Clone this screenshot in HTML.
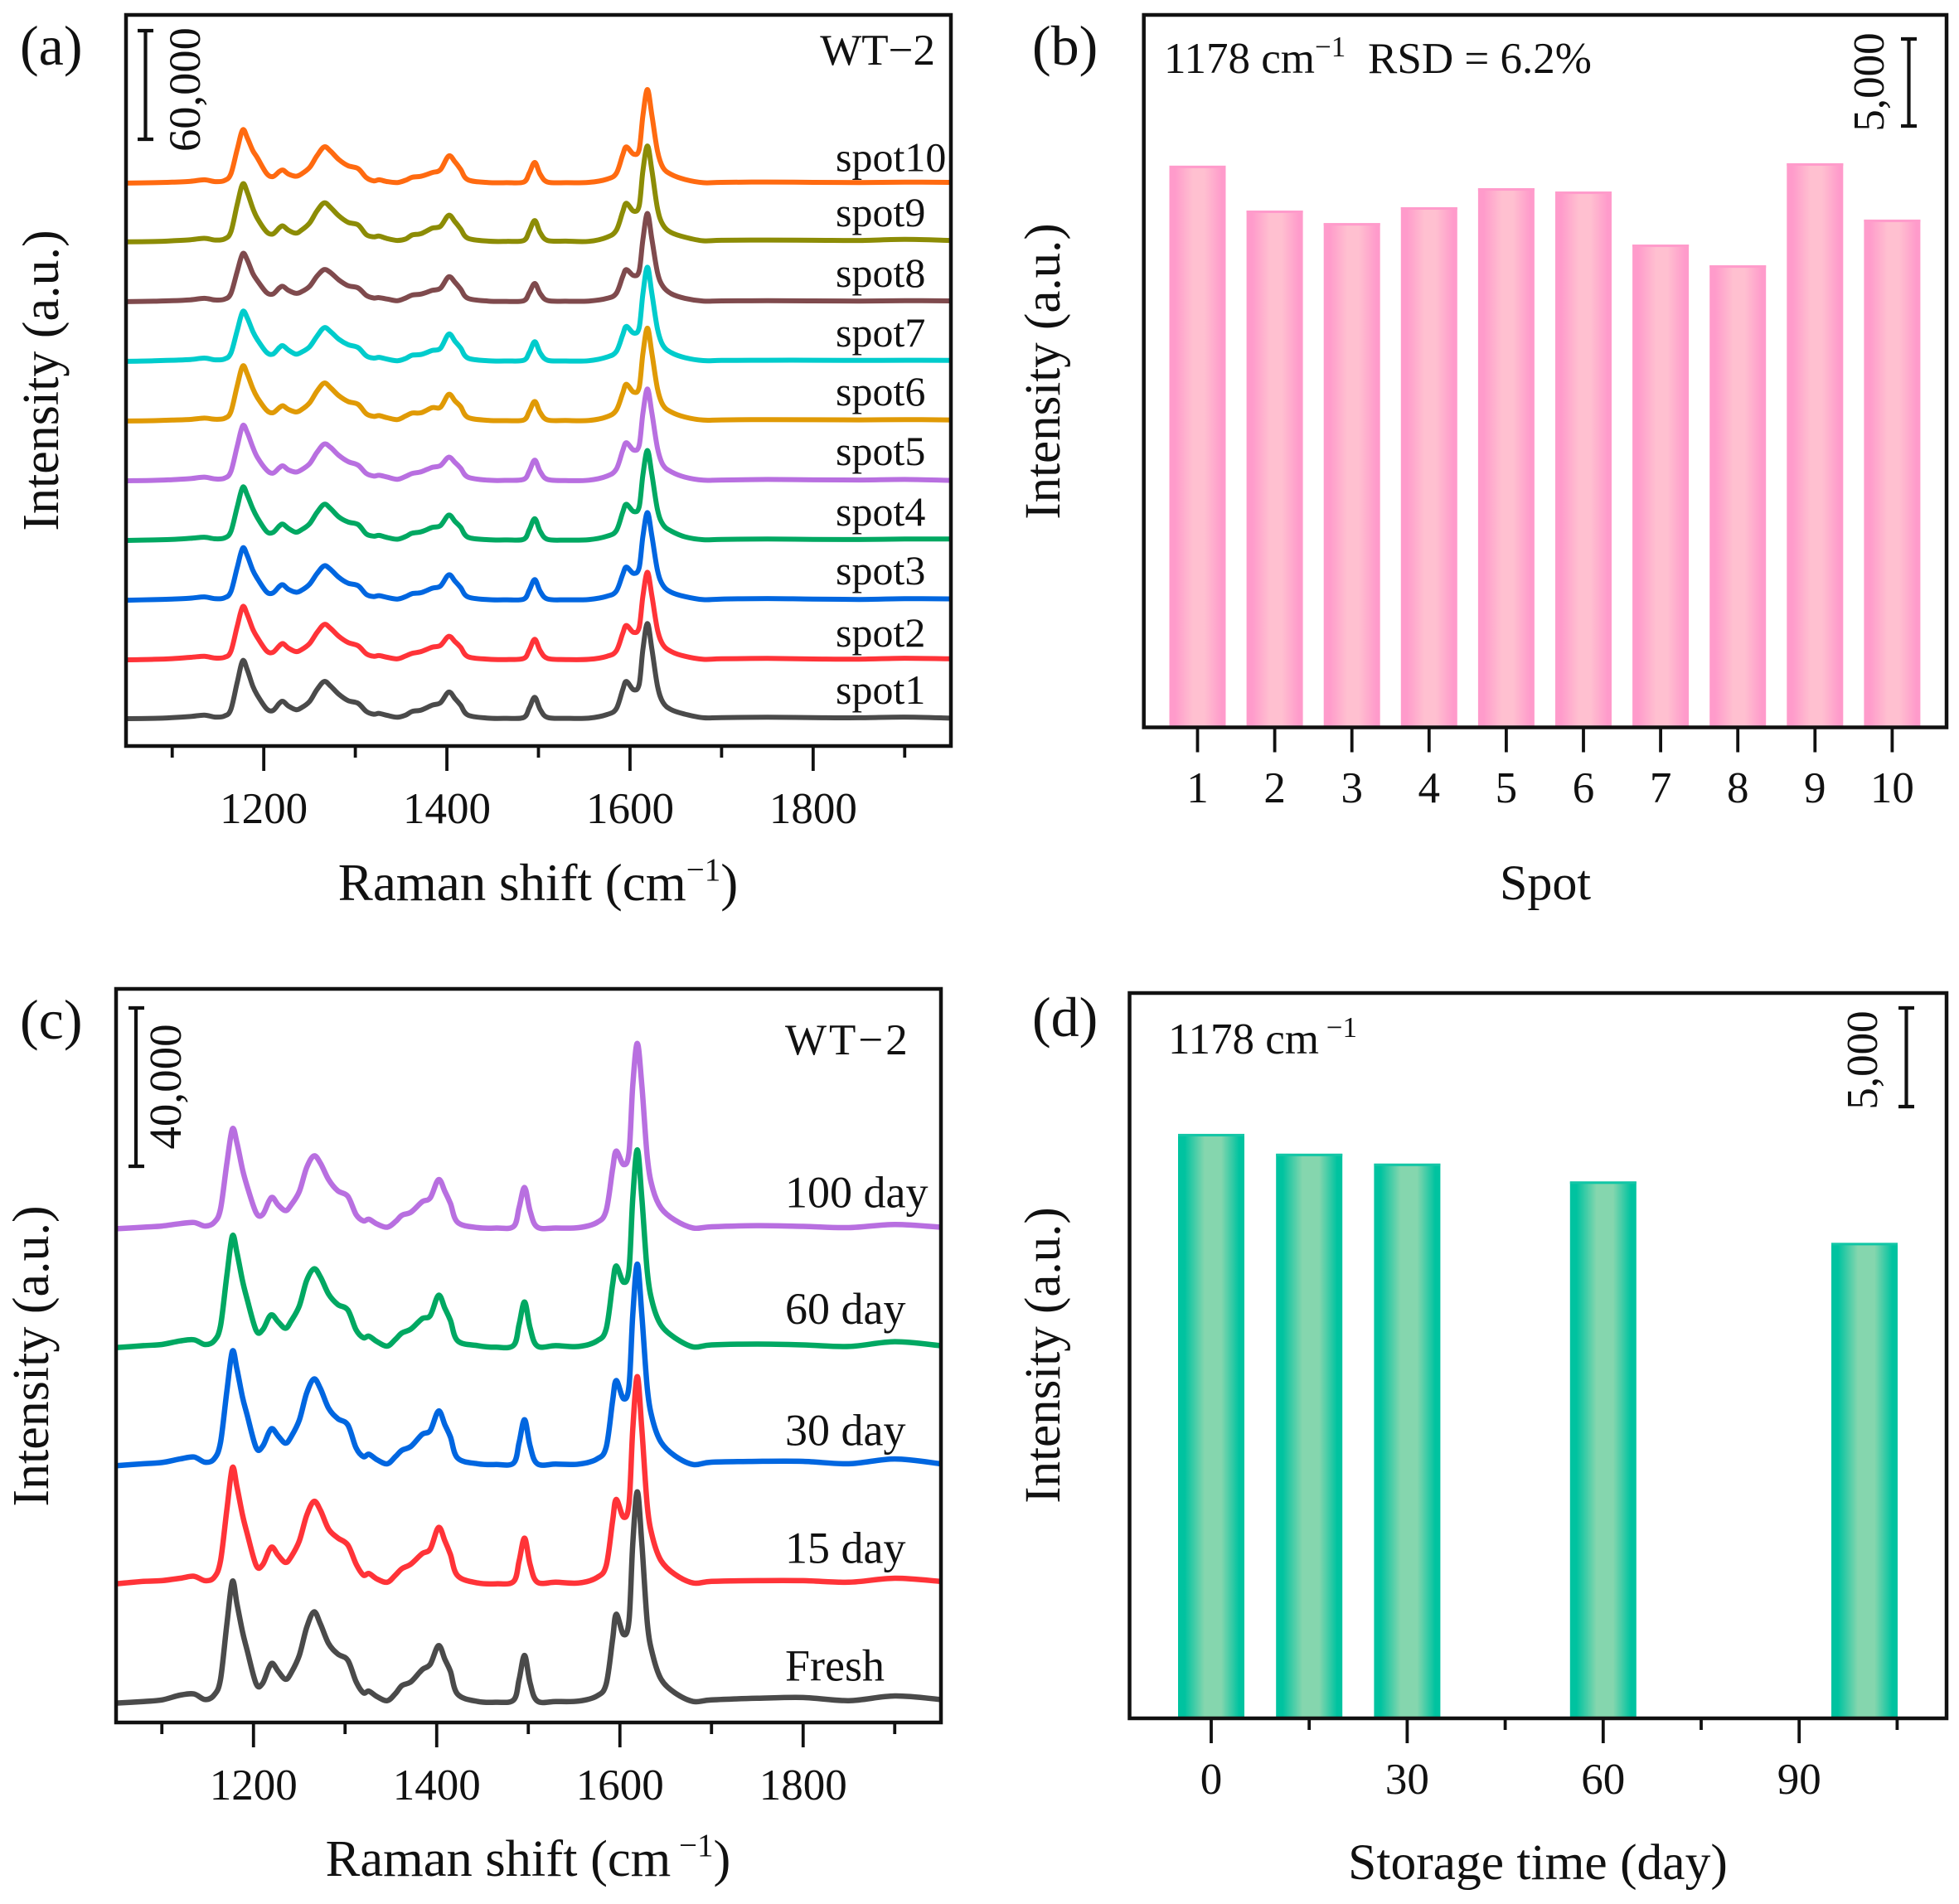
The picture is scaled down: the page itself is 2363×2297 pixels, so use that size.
<!DOCTYPE html>
<html lang="en">
<head>
<meta charset="utf-8">
<title>Raman spectra reproducibility and stability of WT-2</title>
<style>
html,body{margin:0;padding:0;background:#fff;}
svg{display:block;}
text{font-family:"Liberation Serif","Times New Roman",serif;fill:#111;}
</style>
</head>
<body>
<svg id="figure" xmlns="http://www.w3.org/2000/svg" width="2363" height="2297" viewBox="0 0 2363 2297">
  <defs>
    <linearGradient id="pinkGrad" x1="0" x2="1" y1="0" y2="0">
      <stop offset="0" stop-color="#ff9bcb"/><stop offset="0.1" stop-color="#ff9bcb"/><stop offset="0.42" stop-color="#ffc0d0"/><stop offset="0.62" stop-color="#ffc0d0"/><stop offset="0.93" stop-color="#ff9bcb"/><stop offset="1" stop-color="#ff9bcb"/>
    </linearGradient>
    <linearGradient id="greenGrad" x1="0" x2="1" y1="0" y2="0">
      <stop offset="0" stop-color="#00c3a0"/><stop offset="0.1" stop-color="#00c3a0"/><stop offset="0.4" stop-color="#85d6ae"/><stop offset="0.65" stop-color="#85d6ae"/><stop offset="0.92" stop-color="#00c3a0"/><stop offset="1" stop-color="#00c3a0"/>
    </linearGradient>
  </defs>
  <rect x="0" y="0" width="2363" height="2297" fill="#fff"/>

  <g id="panelA"></g>
  <g id="panelB"></g>
  <g id="panelC"></g>
  <g id="panelD"></g>

  <!-- panel (a) annotations -->
  <text x="24" y="78" font-size="68">(a)</text>
  <text x="1128" y="78" font-size="53" text-anchor="end">WT−2</text>
  <text transform="rotate(-90 70 459)" x="70" y="459" font-size="62" text-anchor="middle">Intensity (a.u.)</text>
  <text x="649" y="1086" font-size="63" text-anchor="middle">Raman shift (cm<tspan dy="-24" font-size="39">−1</tspan><tspan dy="24">)</tspan></text>
  <text transform="rotate(-90 241 108)" x="241" y="108" font-size="54.5" text-anchor="middle">60,000</text>
  <path d="M175.5 37V168M166 37H185M166 168H185" stroke="#111" stroke-width="4.2" fill="none"/>

  <!-- panel (b) annotations -->
  <text x="1245" y="78" font-size="68">(b)</text>
  <text x="1404" y="88" font-size="53">1178 cm<tspan dy="-20" font-size="35">−1</tspan></text>
  <text x="1650" y="88" font-size="53">RSD = 6.2%</text>
  <text transform="rotate(-90 1278 448)" x="1278" y="448" font-size="61" text-anchor="middle">Intensity (a.u.)</text>
  <text x="1864" y="1085" font-size="60" text-anchor="middle">Spot</text>
  <text transform="rotate(-90 2272 99)" x="2272" y="99" font-size="53" text-anchor="middle">5,000</text>
  <path d="M2302.5 47V152M2293 47H2312M2293 152H2312" stroke="#111" stroke-width="4.2" fill="none"/>

  <!-- panel (c) annotations -->
  <text x="24" y="1253" font-size="68">(c)</text>
  <text x="947" y="1272" font-size="53" letter-spacing="3">WT−2</text>
  <text transform="rotate(-90 58 1636)" x="58" y="1636" font-size="62" text-anchor="middle">Intensity (a.u.)</text>
  <text x="637" y="2263" font-size="62.5" text-anchor="middle">Raman shift (cm<tspan dy="-24" font-size="39"> −1</tspan><tspan dy="24">)</tspan></text>
  <text transform="rotate(-90 218 1311)" x="218" y="1311" font-size="55" text-anchor="middle">40,000</text>
  <path d="M164 1216V1407M155 1216H174M155 1407H174" stroke="#111" stroke-width="4.2" fill="none"/>

  <!-- panel (d) annotations -->
  <text x="1245" y="1250" font-size="68">(d)</text>
  <text x="1409" y="1271" font-size="53">1178 cm<tspan dy="-20" font-size="35"> −1</tspan></text>
  <text transform="rotate(-90 1278 1635)" x="1278" y="1635" font-size="61" text-anchor="middle">Intensity (a.u.)</text>
  <text x="1855" y="2267" font-size="61.5" text-anchor="middle">Storage time (day)</text>
  <text transform="rotate(-90 2264 1279)" x="2264" y="1279" font-size="53" text-anchor="middle">5,000</text>
  <path d="M2299.5 1216V1335M2290 1216H2309M2290 1335H2309" stroke="#111" stroke-width="4.2" fill="none"/>
</svg>

<script>
// Shared wavenumber grid (cm-1)
const waves = [
 1050,1080,1100,1120,1135,1147,1157,1164,1171,1177,
 1182,1188,1193,1203,1210,1217,1221,1227,1235,1241,
 1250,1258,1266,1273,1282,1292,1303,1312,1320,1326,
 1335,1346,1355,1362,1372,1384,1393,1402,1409,1415,
 1423,1445,1465,1484,1490,1496,1502,1510,1530,1555,
 1575,1585,1592,1596,1604,1610,1614,1619,1624,1630,
 1636,1645,1660,1680,1700,1750,1800,1850,1900,1950];

// Panel (a) spectra: intensity in thousands of counts
const spot1 = [0,.2,.6,1.2,2,.9,1.5,5,20,32, 27,18,13,5.5,4.5,8.5,9.6,7,5,6, 9.5,16,20.6,18,13.5,10,8.5,4,2.5,2.9, 1.8,.8,2,4,4.8,7.5,8.8,14.7,11,7.5, 2,.3,.2,.7,6,11.8,5,.7,.2,.3, 2.3,5.5,16,20.6,16,19,38,52.6,38,18, 9,5,2.5,.5,.6,.8,.6,.5,.9,.3];
const spot2 = [0,.3,.7,1.4,2,1,1.4,4.6,18.5,29.4, 25,17,12.4,5,4.2,7.8,9,6.5,4.6,5.6, 9,15,19.6,17.4,13,9.6,7.8,3.4,2,2.4, 1.4,.6,2.2,3.6,4.6,7,8,13,10,7, 1.8,.4,.2,.8,5.6,11.4,5,.8,.2,.3, 2,5,14.6,19,15.2,18,35,48.4,35,16.6, 8.4,4.6,2,.3,.6,.8,.5,.4,.9,.6];
const spot3 = [0,.3,.6,1.1,1.8,.8,1.3,4.6,18,28.8, 24.6,16.6,12,4.6,4,7.6,8.5,6,4.4,5.4, 8.8,14.6,19,17,12.6,9.4,8,3.2,2,2.5, 1.5,.6,2,3.6,4.2,6.6,7.8,14,10.4,7, 1.8,.3,.2,.6,5.6,11.4,4.8,.6,.2,.4, 2.2,5,14.2,18.3,14.8,18,35,48.4,35,16.4, 8.2,4.4,2,.3,.6,.9,.6,.4,.8,.7];
const spot4 = [0,.3,.6,1.2,1.8,.9,1.4,4.8,18.4,29.4, 25,17.6,12.6,5,4.4,8,9,6.6,4.6,5.8, 9.2,15.4,20,17.6,13,10.2,8.8,3.6,2.4,2.8, 1.6,.7,2.2,4,4.8,7.2,8.2,14,10.4,7.4, 1.8,.4,.3,.7,6,12,5,.6,.2,.4, 2.4,5.4,15.6,20,16,18.6,36,49.7,36,17, 8.8,5.2,2,.4,.6,.8,.6,.5,.8,.8];
const spot5 = [0,.2,.6,1.2,2,1,1.4,5,19,30.4, 26.6,18.6,13,6,4.2,7.2,8.2,6,4.8,6, 9.4,15.6,20.3,18.4,14,10.6,8.6,4,2.6,3, 2,.8,2.4,4,5,7.4,8.4,13,10,7, 2,.3,.2,.8,5.4,11.4,5,.7,.1,.3, 2.6,6.4,16.6,21,17,19.6,37,50.7,37,18, 8.8,5,2,.3,.4,.7,.5,.4,.7,.2];
const spot6 = [0,.2,.5,.9,1.6,1,1.5,5,19.4,30.4, 26,18,13,6,4.6,7.4,8.4,6.4,5,6.2, 10,16.4,21,18.4,14,10.8,9.2,4,2.6,3, 1.8,.8,2.8,4.4,4.6,7.4,7.6,14.7,11,8, 2,.4,.2,.6,5.4,10.8,4.6,.6,.3,.3, 2.4,6,15.4,20.3,16,18.6,37,51.3,37,17.8, 8.8,5,2.2,.5,.6,.8,.7,.6,.8,.6];
const spot7 = [0,.3,.6,1,1.8,.8,1.3,4.4,17,27.5, 24,16.6,12,5,4,7.6,8.6,6.2,4,5, 8,13.8,18.6,16.4,12.2,9.2,7.6,3,1.8,2.2, 1.2,.3,1.6,3.4,3.8,6,7.2,15,11,7.4, 1.8,.3,.2,.6,5,10.8,4.6,.6,.2,.3, 2.4,5.4,14.6,19.3,15.6,18.6,37,52,37,17.8, 8.8,4.8,2,.4,.5,.6,.6,.5,.6,.5];
const spot8 = [0,.2,.5,1,1.8,.9,1.3,4.4,16.6,26.5, 23,15.6,11.6,5,4.2,7.6,8.4,6.2,4.6,5.4, 8.4,14,17.7,16,12,8.8,7.6,3.4,2,2.2, 1.4,.5,2,3.6,4.2,6.2,7.4,13.7,10.6,7, 1.8,.3,.1,.5,5,10,4.4,.6,.2,.3, 1.8,4.6,13.8,17.7,14.4,17,34,48.7,34,16, 8.4,4.4,1.8,.3,.4,.5,.4,.3,.5,.4];
const spot9 = [0,.2,.6,1.2,2,1,1.6,5.4,20.6,32, 27.4,18.6,13,5.6,4.4,7.8,8.8,6.4,4.8,6.4, 10.4,17,21.6,19,14.4,10.8,9.4,4,2.8,3.2, 1.8,.8,1.6,3.8,4.6,7.6,8.6,14.7,11,7.2, 2,.4,.3,.8,6,11.8,5,.8,.4,.3, 2.6,6.4,16.6,21.3,17,20,39,53,39,18.4, 9.4,5.2,2.6,.6,.9,1,.9,.8,1.4,.8];
const spot10 = [0,.2,.5,1,1.8,.8,1.4,5,18.6,29.4, 25,18,14,5.4,3.6,6.4,7.2,5,3.8,5, 8.6,15,20,17.6,13,9.6,8,3,1.2,1.8, .8,.3,1.6,3.2,3.8,5.8,7.4,15,11.6,7.6, 1.8,.3,.2,.6,5.6,11.4,4.8,.6,.2,.4, 2.2,5.4,15.6,20,16,18.6,37,51.7,37,17.6, 8.6,4.8,2,.2,.4,.6,.4,.3,.5,.4];
const spotSeries = [spot1,spot2,spot3,spot4,spot5,spot6,spot7,spot8,spot9,spot10];
const spotNames = ['spot1','spot2','spot3','spot4','spot5','spot6','spot7','spot8','spot9','spot10'];
const spotStackOffsets = [15.1,47.6,80.6,113.6,146.6,179.6,212.6,245.6,278.6,311.1];
const spotColors = ['#4a4a4a','#ff3338','#0066e0','#00a862','#b86fe0','#e09a05','#00cccc','#7f4a4d','#8c8c05','#ff6a10'];
const spotLabelIntensity = [23.4,54.9,89.4,121.9,155.4,188.2,220.9,253.7,287.2,317.6];

// Panel (b) bars: intensity at 1178 cm-1 (counts)
const barSpots = [1,2,3,4,5,6,7,8,9,10];
const barIntensity = [32190,29620,28900,29810,30900,30710,27670,26480,32330,29100];

// Panel (c) spectra: intensity in thousands of counts
const fresh = [0,.4,.8,2,2.3,.9,2,6,20,30.7, 25,18,13.4,4.8,5,9,10,8,6,7.6, 12,19,23,20,15,12.4,10.8,5.4,2.6,3, 1.6,.6,2.4,4.4,5.4,8.4,9.8,14.5,11,8, 2.2,.4,.2,.8,6,12,5,.5,.4,.5, 1.8,4.8,16,22.4,17.3,21,40,53.3,40,20, 12,6,2.6,.4,.8,1.2,1.4,.6,1.8,.9];
const day15 = [.2,.8,1,1.6,2.1,1,1.8,6,19,29.5, 24.6,17.6,13,4.8,5,8.6,9.4,7.4,5.6,7, 11,17.4,21,18.8,14,11.8,10,5.2,2.4,2.8, 1.4,.6,2.4,4,5.2,7.8,9,14.4,11,7.6, 2.2,.4,.2,.8,6,11.7,5,.6,.6,.4, 1.8,4.8,16,21.5,17,20.6,39,52.5,39,19.6, 11.6,6,2.6,.4,.8,1,1,.6,1.6,.8];
const day30 = [.1,.6,.9,1.8,2.3,1,1.8,6,19,29, 24.4,17.4,13,4.6,5,8.6,9.4,7.6,5.8,7.4, 11.6,18.4,22,19.6,14.6,12,10.4,4.6,2.4,3, 1.6,.6,2.4,4,5,8,9,13.9,10.4,7.4, 2,.6,.4,.8,6,11.7,5,.6,.5,.5, 1.8,4.8,16.4,21.6,17,20.4,38,51,38,19.4, 11.4,6,2.6,.4,1,1.2,1.2,.6,1.8,.6];
const day60 = [.1,.6,.9,1.8,2.1,.9,1.8,5.6,18.4,28.3, 24,17,12.4,4.4,4.6,7.8,8.3,6.6,5,6.8, 10.6,17,20,18,13.6,11,9.6,4.6,2.6,3, 1.6,.5,2.2,3.8,4.8,7.4,8.2,13.3,10,7, 1.8,.6,.2,.7,6,11.6,5,.5,.6,.4, 1.8,4.8,16,20.7,16.6,20,37.6,50,37.6,19, 11,5.8,2.6,.3,.8,1,.8,.4,1.6,.6];
const day100 = [0,.4,.7,1.3,1.6,.7,1.6,5,16.6,25.2, 21.6,15,10.8,4,3.6,7,7.9,6,4.6,6, 9.4,15.4,18.4,16.6,12.4,9.6,8.2,3.6,2,2.4, 1.2,.4,1.8,3.4,4.2,6.8,7.8,12.4,9.4,6.4, 1.6,.3,.2,.6,5.4,10.4,4.4,.4,.2,.3, 1.6,4.6,15,19.6,16.2,19.4,36,46.8,36,17.8, 10,5.2,2.2,.2,.5,.8,.6,.3,1.1,.4];
const agingSeries = [fresh,day15,day30,day60,day100];
const agingNames = ['Fresh','15 day','30 day','60 day','100 day'];
const agingStackOffsets = [4.9,34.8,64.7,94.5,124.6];
const agingColors = ['#4a4a4a','#ff3338','#0066e0','#00a862','#b86fe0'];
const agingLabelIntensity = [10.6,40.3,70,100.6,130];

// Panel (d) bars
const storageDays = [0,15,30,60,100];
const storageIntensity = [29500,28500,28000,27100,24000];

// Axis tick values
const ramanMajorTicks = [1200,1400,1600,1800];
const ramanMinorTicks = [1100,1300,1500,1700,1900];
const storageMajorTicks = [0,30,60,90];
const storageMinorTicks = [15,45,75,105];

const SVG_NS = 'http://www.w3.org/2000/svg';

// Axis functions
function ramanScale(left, right) { return w => left + (w - 1050) * (right - left) / 900; }
const xA = ramanScale(152.5, 1146.5);
const xC = ramanScale(140, 1134.5);
const yA = v => 900 - v * 2.183;
const yC = v => 2078 - v * 4.78;
const xB = s => 1444.5 + (s - 1) * 93.1;
const yB = v => 877.5 - v * 0.02105;
const xD = d => 1461 + d * 7.88;
const yD = v => 2073 - v * 0.0239;

function smoothPath(xs, ys) {
  let d = 'M' + xs[0].toFixed(1) + ' ' + ys[0].toFixed(1);
  for (let i = 0; i < xs.length - 1; i++) {
    const i0 = Math.max(i - 1, 0), i3 = Math.min(i + 2, xs.length - 1);
    const c1x = xs[i] + (xs[i + 1] - xs[i0]) / 6, c1y = ys[i] + (ys[i + 1] - ys[i0]) / 6;
    const c2x = xs[i + 1] - (xs[i3] - xs[i]) / 6, c2y = ys[i + 1] - (ys[i3] - ys[i]) / 6;
    d += 'C' + c1x.toFixed(1) + ' ' + c1y.toFixed(1) + ' ' + c2x.toFixed(1) + ' ' + c2y.toFixed(1) + ' ' + xs[i + 1].toFixed(1) + ' ' + ys[i + 1].toFixed(1);
  }
  return d;
}

function drawSpectrum(parent, xFn, yFn, values, offset, color, width, name) {
  const el = document.createElementNS(SVG_NS, 'path');
  
  
  el.setAttribute('d', smoothPath(waves.map(xFn), values.map(v => yFn(v + offset))));
  el.setAttribute('fill', 'none');
  el.setAttribute('stroke', color);
  el.setAttribute('stroke-width', width);
  el.setAttribute('stroke-linejoin', 'round');
  el.setAttribute('stroke-linecap', 'butt');
  parent.appendChild(el);
}

function drawText(parent, x, y, str, size, anchor, name) {
  const el = document.createElementNS(SVG_NS, 'text');
  
  
  el.setAttribute('x', x);
  el.setAttribute('y', y);
  el.setAttribute('font-size', size);
  el.setAttribute('text-anchor', anchor);
  el.textContent = str;
  parent.appendChild(el);
}

function drawTick(parent, x, y0, len, name) {
  const el = document.createElementNS(SVG_NS, 'line');
  
  
  el.setAttribute('x1', x);
  el.setAttribute('x2', x);
  el.setAttribute('y1', y0);
  el.setAttribute('y2', y0 + len);
  el.setAttribute('stroke', '#111');
  el.setAttribute('stroke-width', '3.8');
  parent.appendChild(el);
}

function drawFrame(parent, x0, y0, x1, y1, name) {
  const el = document.createElementNS(SVG_NS, 'rect');
  
  
  el.setAttribute('x', x0);
  el.setAttribute('y', y0);
  el.setAttribute('width', x1 - x0);
  el.setAttribute('height', y1 - y0);
  el.setAttribute('fill', 'none');
  el.setAttribute('stroke', '#111');
  el.setAttribute('stroke-width', '4.5');
  parent.appendChild(el);
}

function drawBar(parent, cx, topY, baseY, width, fill, capColor, name) {
  const el = document.createElementNS(SVG_NS, 'rect');
  
  
  el.setAttribute('x', cx - width / 2);
  el.setAttribute('y', topY);
  el.setAttribute('width', width);
  el.setAttribute('height', baseY - topY);
  el.setAttribute('fill', fill);
  parent.appendChild(el);
  const cap = document.createElementNS(SVG_NS, 'rect');
  
  
  cap.setAttribute('x', cx - width / 2);
  cap.setAttribute('y', topY);
  cap.setAttribute('width', width);
  cap.setAttribute('height', 3);
  cap.setAttribute('fill', capColor);
  parent.appendChild(cap);
}

// Panel (a)
const panelA = document.getElementById('panelA');
for (let i = spotSeries.length - 1; i >= 0; i--) {
  drawSpectrum(panelA, xA, yA, spotSeries[i], spotStackOffsets[i], spotColors[i], 6, spotNames[i] + '-spectrum');
}
spotNames.forEach((n, i) => drawText(panelA, 1008, yA(spotLabelIntensity[i]), n, 50, 'start', n + '-label'));
drawFrame(panelA, 152, 18, 1147, 900, 'panel-a-frame');
ramanMajorTicks.forEach(t => {
  drawTick(panelA, xA(t), 900, 30, 'panel-a-major-tick');
  drawText(panelA, xA(t), 993, String(t), 53, 'middle', 'panel-a-tick-label');
});
ramanMinorTicks.forEach(t => drawTick(panelA, xA(t), 900, 14, 'panel-a-minor-tick'));

// Panel (b)
const panelB = document.getElementById('panelB');
barSpots.forEach((s, i) => {
  drawBar(panelB, xB(s), yB(barIntensity[i]), 877.5, 68, 'url(#pinkGrad)', '#ff9bcb', 'bar-spot-' + s);
});
drawFrame(panelB, 1379.7, 18, 2348, 877.5, 'panel-b-frame');
barSpots.forEach(s => {
  drawTick(panelB, xB(s), 877.5, 30, 'panel-b-tick');
  drawText(panelB, xB(s), 968, String(s), 53, 'middle', 'panel-b-tick-label');
});

// Panel (c)
const panelC = document.getElementById('panelC');
for (let i = agingSeries.length - 1; i >= 0; i--) {
  drawSpectrum(panelC, xC, yC, agingSeries[i], agingStackOffsets[i], agingColors[i], 6.5, agingNames[i].replace(' ', '-').toLowerCase() + '-spectrum');
}
agingNames.forEach((n, i) => drawText(panelC, 947, yC(agingLabelIntensity[i]), n, 54, 'start', n.replace(' ', '-').toLowerCase() + '-label'));
drawFrame(panelC, 140, 1193, 1135, 2078, 'panel-c-frame');
ramanMajorTicks.forEach(t => {
  drawTick(panelC, xC(t), 2078, 30, 'panel-c-major-tick');
  drawText(panelC, xC(t), 2171, String(t), 53, 'middle', 'panel-c-tick-label');
});
ramanMinorTicks.forEach(t => drawTick(panelC, xC(t), 2078, 14, 'panel-c-minor-tick'));

// Panel (d)
const panelD = document.getElementById('panelD');
storageDays.forEach((d, i) => {
  drawBar(panelD, xD(d), yD(storageIntensity[i]), 2073, 80, 'url(#greenGrad)', '#12c6a6', 'bar-day-' + d);
});
drawFrame(panelD, 1362.5, 1198, 2348, 2073, 'panel-d-frame');
storageMajorTicks.forEach(t => {
  drawTick(panelD, xD(t), 2073, 30, 'panel-d-major-tick');
  drawText(panelD, xD(t), 2164, String(t), 53, 'middle', 'panel-d-tick-label');
});
storageMinorTicks.forEach(t => drawTick(panelD, xD(t), 2073, 14, 'panel-d-minor-tick'));
</script>
</body>
</html>
